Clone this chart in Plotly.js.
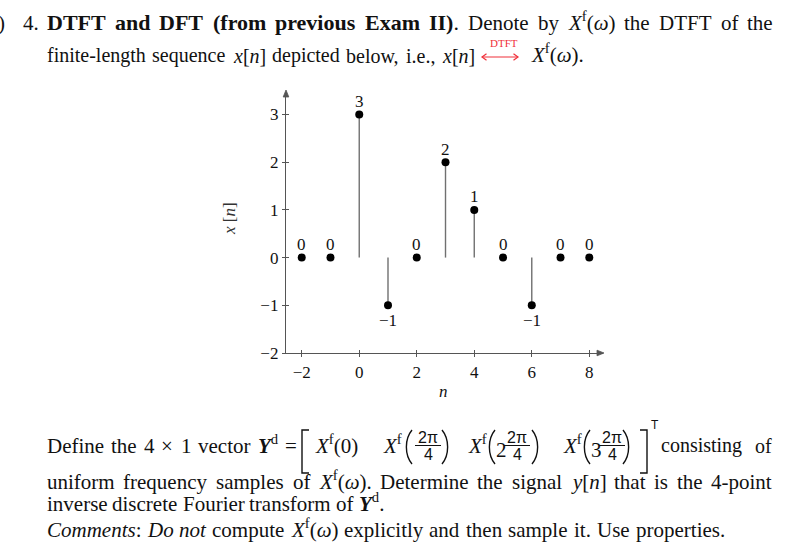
<!DOCTYPE html>
<html><head><meta charset="utf-8">
<script src="https://cdn.plot.ly/plotly-3.0.1.min.js"></script>
<style>html,body{margin:0;padding:0;background:#fff}#chart{width:804px;height:554px}</style>
</head><body><div id="chart"></div>
<script>
// ---- data ----
const nValues = [-2, -1, 0, 1, 2, 3, 4, 5, 6, 7, 8];
const xValues = [0, 0, 3, -1, 0, 2, 1, 0, -1, 0, 0];
const xTickVals = [-2, 0, 2, 4, 6, 8];
const yTickVals = [-2, -1, 0, 1, 2, 3];

// ---- page geometry helpers (pixel -> paper) ----
const L = 286, W = 317, B = 353, H = 260;
const px = v => (v - L) / W;
const py = v => (B - v) / H;
const SERIF = 'Liberation Serif';
const SANS = 'Liberation Sans';
const INK = '#111';
const AX = '#555';
const RED = '#f0303a';

// text width measurement (for justified word placement)
const cv = document.createElement('canvas').getContext('2d');
function measure(html, size) {
  const parts = html.split(/(<\/?(?:b|i|sup)>)/);
  let b = false, it = false, sup = false, w = 0;
  parts.forEach(p => {
    if (p === '<b>') b = true; else if (p === '</b>') b = false;
    else if (p === '<i>') it = true; else if (p === '</i>') it = false;
    else if (p === '<sup>') sup = true; else if (p === '</sup>') sup = false;
    else if (p) {
      cv.font = (it ? 'italic ' : '') + (b ? 'bold ' : '') + (sup ? size * 0.7 : size) + 'px "' + SERIF + '"';
      w += cv.measureText(p).width;
    }
  });
  return w;
}

function txt(text, x, base, size, extra) {
  const a = {
    text: text, xref: 'paper', yref: 'paper',
    x: px(x), y: py(base + 0.216 * size),
    xanchor: 'left', yanchor: 'bottom', showarrow: false, borderpad: 0, borderwidth: 0,
    font: {family: SERIF, size: size, color: INK}
  };
  return Object.assign(a, extra || {});
}
function ctr(text, x, y, size, extra) {
  const a = {
    text: text, xref: 'paper', yref: 'paper',
    x: px(x), y: py(y), xanchor: 'center', yanchor: 'middle', showarrow: false,
    borderpad: 0, borderwidth: 0,
    font: {family: SERIF, size: size, color: INK}
  };
  return Object.assign(a, extra || {});
}
const XF = '<i>X</i><sup>f</sup>';
const XFW = XF + '(<i>\u03c9</i>)';
const YD = '<b><i>Y</i></b><sup>d</sup>';
const XN = '<i>x</i>[<i>n</i>]';

// lines of words spread between a start and an end (justified like the source)
const textLines = [
  {base: 30.7, x0: 46.7, x1: 773, size: 21, words: [
    ['<b>DTFT</b>', 22], ['<b>and</b>', 22], ['<b>DFT</b>', 22], ['<b>(from</b>', 22],
    ['<b>previous</b>', 22], ['<b>Exam</b>', 22], ['<b>II)</b>.', 22],
    'Denote', 'by', XFW, 'the', 'DTFT', 'of', 'the']},
  {base: 62.7, x0: 46.7, x1: 474, size: 20, words: ['finite-length', 'sequence', XN, 'depicted', 'below,', 'i.e.,', XN]},
  {base: 453, x0: 46.7, x1: 297, size: 21, words: ['Define', 'the', '4', '\u00d7', '1', 'vector', YD, '=']},
  {base: 453, x0: 661, x1: 772, size: 20, words: ['consisting', 'of']},
  {base: 489, x0: 46.7, x1: 772, size: 21, words: ['uniform', 'frequency', 'samples', 'of', XFW + '.', 'Determine',
    'the', 'signal', '<i>y</i>[<i>n</i>]', 'that', 'is', 'the', '4-point']},
  {base: 511, x0: 46.7, x1: 384, size: 21, words: ['inverse', 'discrete', 'Fourier', 'transform', 'of', YD + '.']},
  {base: 537, x0: 46.7, x1: 725, size: 21, words: ['<i>Comments</i>:', '<i>Do</i>', '<i>not</i>', 'compute', XFW,
    'explicitly', 'and', 'then', 'sample', 'it.', 'Use', 'properties.']}
];

// ---- traces ----
const stemX = [], stemY = [];
nValues.forEach((n, i) => {
  if (xValues[i] !== 0) { stemX.push(n, n, null); stemY.push(0, xValues[i], null); }
});
const traces = [
  {x: stemX, y: stemY, mode: 'lines', line: {color: '#707070', width: 1.4},
   hoverinfo: 'skip', cliponaxis: false},
  {x: nValues, y: xValues, mode: 'markers', marker: {color: '#000', size: 8},
   cliponaxis: false},
  {x: [null], y: [null], xaxis: 'x2', yaxis: 'y2', mode: 'markers', showlegend: false}
];

// ---- annotations ----
const ann = [];
nValues.forEach((n, i) => {
  const v = xValues[i];
  ann.push({x: n, y: v, xref: 'x', yref: 'y', showarrow: false,
    text: v < 0 ? '\u2212' + Math.abs(v) : String(v),
    yshift: v < 0 ? -15 : 13, xanchor: 'center', yanchor: 'middle',
    font: {family: SERIF, size: 17, color: INK}});
});
ann.push(ctr('<i>x</i> [<i>n</i>]', 229, 219, 17, {textangle: -90, font: {family: SERIF, size: 17, color: '#333'}}));
ann.push(ctr('<i>n</i>', 443, 391, 17));

// fixed texts
ann.push(txt(')', 5, 30.7, 21, {xanchor: 'right'}));
ann.push(txt('4.', 22.7, 30.7, 21));
ann.push(ctr('DTFT', 504, 43, 11, {font: {family: SERIF, size: 11, color: RED}}));
ann.push(txt(XFW + '.', 531, 62.7, 21));

// justified words
textLines.forEach(line => {
  const items = line.words.map(w => Array.isArray(w) ? {t: w[0], s: w[1]} : {t: w, s: line.size});
  const widths = items.map(it => measure(it.t, it.s));
  const sum = widths.reduce((a, b) => a + b, 0);
  const gap = items.length > 1 ? (line.x1 - line.x0 - sum) / (items.length - 1) : 0;
  let x = line.x0;
  items.forEach((it, k) => {
    ann.push(txt(it.t, x, line.base, it.s));
    x += widths[k] + gap;
  });
});

// the vector [ ... ]^T
ann.push(txt(XF + '(0)', 315, 453, 21));
ann.push(txt(XF, 383, 453, 21));
ann.push(txt(XF, 468, 453, 21));
ann.push(ctr('2', 501, 450, 21));
ann.push(txt(XF, 563, 453, 21));
ann.push(ctr('3', 596, 450, 21));
const fracCenters = [428, 517, 612];
fracCenters.forEach(c => {
  ann.push(ctr('2\u03c0', c, 437.5, 16, {font: {family: SANS, size: 16, color: INK}}));
  ann.push(ctr('4', c, 454, 16, {font: {family: SANS, size: 16, color: INK}}));
});
ann.push(ctr('T', 655, 425, 12, {font: {family: SANS, size: 12, color: INK}}));

// ---- shapes ----
const shapes = [];
const P = (x, y) => px(x) + ',' + py(y);
function path(d, color, width, fill) {
  const s = {type: 'path', xref: 'paper', yref: 'paper', path: d,
    line: {color: color || INK, width: width || 1.3}};
  if (fill) { s.fillcolor = fill; }
  shapes.push(s);
}
// axis arrowheads
path('M' + P(604, 353) + ' L' + P(597, 350.2) + ' L' + P(597, 355.8) + ' Z', AX, 0.8, AX);
path('M' + P(286, 90) + ' L' + P(283.2, 97) + ' L' + P(288.8, 97) + ' Z', AX, 0.8, AX);
// DTFT two-headed arrow
path('M' + P(482, 57) + ' L' + P(518, 57), RED, 1.2);
path('M' + P(486.5, 53.8) + ' L' + P(482, 57) + ' L' + P(486.5, 60.2), RED, 1.2);
path('M' + P(513.5, 53.8) + ' L' + P(518, 57) + ' L' + P(513.5, 60.2), RED, 1.2);
// brackets
path('M' + P(309, 430) + ' L' + P(302, 430) + ' L' + P(302, 473) + ' L' + P(309, 473), INK, 1.4);
path('M' + P(640, 430) + ' L' + P(647, 430) + ' L' + P(647, 473) + ' L' + P(640, 473), INK, 1.4);
// large parentheses
const parens = [[404, 442], [487, 532], [582, 623]];
parens.forEach(p => {
  const y0 = 430, y1 = 464;
  path('M' + P(p[0] + 8, y0) + ' C' + P(p[0] + 0.5, y0 + 9) + ' ' + P(p[0] + 0.5, y1 - 9) + ' ' + P(p[0] + 8, y1), INK, 1.4);
  path('M' + P(p[1], y0) + ' C' + P(p[1] + 7.5, y0 + 9) + ' ' + P(p[1] + 7.5, y1 - 9) + ' ' + P(p[1], y1), INK, 1.4);
});
// fraction bars
fracCenters.forEach(c => {
  shapes.push({type: 'line', xref: 'paper', yref: 'paper', x0: px(c - 13), x1: px(c + 13),
    y0: py(445.5), y1: py(445.5), line: {color: INK, width: 1}});
});

const axCommon = {
  showgrid: false, zeroline: false, fixedrange: true,
  tickfont: {family: SERIF, size: 17, color: INK}
};
const layout = {
  width: 804, height: 554,
  margin: {l: L, r: 804 - L - W, t: B - H, b: 554 - B},
  paper_bgcolor: '#fff', plot_bgcolor: '#fff', showlegend: false,
  xaxis: Object.assign({}, axCommon, {range: [-2.547, 8.477], tickmode: 'array', tickvals: xTickVals,
    ticks: 'outside', ticklen: 3, tickwidth: 1, tickcolor: AX, showline: true, linecolor: AX, linewidth: 1.2}),
  yaxis: Object.assign({}, axCommon, {range: [-2, 3.45], tickmode: 'array', tickvals: yTickVals,
    ticks: 'outside', ticklen: 3, tickwidth: 1, tickcolor: AX, showline: true, linecolor: AX, linewidth: 1.2}),
  xaxis2: {overlaying: 'x', anchor: 'y2', range: [-2.547, 8.477], tickmode: 'array', tickvals: xTickVals,
    ticks: 'inside', ticklen: 3, tickwidth: 1, tickcolor: AX, showticklabels: false,
    showgrid: false, zeroline: false, showline: false, fixedrange: true},
  yaxis2: {overlaying: 'y', anchor: 'x2', range: [-2, 3.45], tickmode: 'array', tickvals: yTickVals,
    ticks: 'inside', ticklen: 3, tickwidth: 1, tickcolor: AX, showticklabels: false,
    showgrid: false, zeroline: false, showline: false, fixedrange: true},
  annotations: ann,
  shapes: shapes
};
Plotly.newPlot('chart', traces, layout, {displayModeBar: false, staticPlot: true});
</script>
</body></html>
